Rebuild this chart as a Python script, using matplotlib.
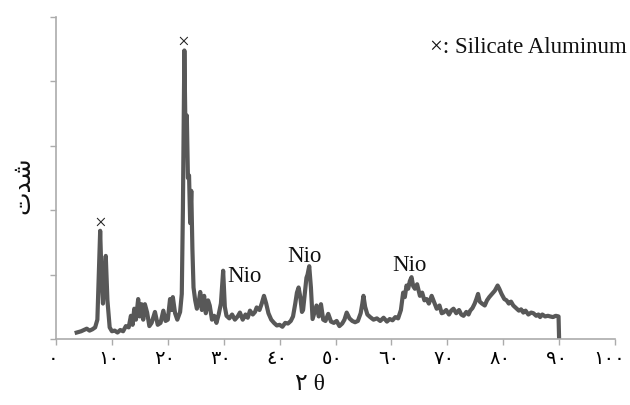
import matplotlib
matplotlib.use('Agg')
import matplotlib.pyplot as plt
import matplotlib.transforms as mtransforms

# XRD pattern (2 theta, intensity in arbitrary units 0-500)
two_theta = [3.7, 4.5, 5.0, 5.5, 6.0, 6.5, 7.0, 7.4, 7.7, 7.9, 8.1, 8.4, 8.6, 8.9, 9.2, 9.6,
             10.0, 10.5, 11.0, 11.5, 12.0, 12.5, 13.0, 13.4, 13.7, 14.0, 14.3, 14.7, 15.0, 15.3, 15.6, 15.9,
             16.3, 16.7, 17.1, 17.7, 18.2, 18.7, 19.2, 19.6, 20.0, 20.4, 20.7, 20.9, 21.3, 21.7, 22.2, 22.5,
             22.7, 22.96, 23.2, 23.4, 23.6, 23.8, 24.0, 24.2, 24.4, 24.6, 24.9, 25.2, 25.5, 25.8, 26.1, 26.5,
             26.8, 27.2, 27.5, 27.9, 28.3, 28.7, 29.1, 29.5, 29.9, 30.2, 30.5,
             31.0, 31.5, 32.0, 32.5, 32.9, 33.4, 33.9, 34.3, 34.7, 35.2, 35.6, 35.9, 36.4, 36.8, 37.2, 37.6,
             38.0, 38.5, 39.0, 39.5, 40.0, 40.5, 41.0, 41.5, 42.0, 42.4, 42.8, 43.1, 43.4, 43.7, 44.0, 44.2,
             44.5, 44.8, 45.0, 45.3, 45.6, 45.9, 46.2, 46.6, 47.0, 47.4, 47.8, 48.2, 48.7, 49.2, 49.7, 50.2,
             50.7, 51.2, 51.6, 52.0, 52.5, 53.0, 53.5, 54.0, 54.5,
             54.8, 55.0, 55.3, 55.7, 56.2, 56.8, 57.4, 58.0, 58.6, 59.2, 59.7, 60.2, 60.7, 61.2, 61.7, 62.1,
             62.4, 62.7, 63.0, 63.3, 63.6, 63.9, 64.2, 64.6, 65.1, 65.5, 65.9, 66.3, 66.7, 67.2, 67.6, 68.1,
             68.6, 69.0, 69.3, 69.8, 70.3, 70.7, 71.1, 71.6, 72.1, 72.5, 72.9, 73.4, 73.8, 74.1, 74.5, 74.9,
             75.2, 75.5, 75.8, 76.2, 76.7, 77.1, 77.5, 78.0, 78.5, 79.0, 79.3, 79.7, 80.2, 80.6, 81.0, 81.4,
             81.8, 82.3, 82.8, 83.2, 83.6, 84.0, 84.5, 85.0, 85.4, 85.9, 86.3, 86.6, 87.0, 87.5, 88.0, 88.4,
             88.9, 89.4, 89.9, 90.0]
intensity = [10, 12, 14, 16, 13, 15, 18, 30, 110, 168, 110, 55, 90, 129, 60, 18,
             12, 13, 10, 14, 12, 20, 18, 36, 22, 47, 30, 62, 35, 54, 30, 54,
             41, 20, 25, 42, 22, 25, 44, 28, 30, 62, 45, 65, 40, 30, 42, 70,
             200, 448, 300, 347, 250, 254, 180, 230, 140, 80, 60, 47, 55, 73, 45, 67,
             40, 60, 52, 30, 36, 25, 38, 55, 106, 50, 36,
             32, 38, 30, 35, 41, 30, 38, 33, 44, 38, 42, 49, 45, 55, 67, 55,
             40, 30, 25, 21, 22, 19, 25, 24, 28, 35, 55, 72, 80, 65, 42, 45,
             70, 95, 100, 113, 80, 31, 40, 52, 35, 54, 30, 28, 39, 27, 25, 28,
             20, 24, 30, 41, 32, 28, 26, 28, 40,
             55, 67, 50, 38, 34, 30, 32, 28, 33, 27, 31, 29, 34, 32, 45, 72,
             65, 83, 78, 90, 96, 82, 78, 85, 67, 72, 60, 62, 55, 67, 58, 47,
             52, 40, 41, 45, 38, 44, 47, 40, 45, 38, 36, 42, 38, 44, 48, 55,
             62, 70, 58, 55, 52, 60, 65, 70, 75, 83, 78, 70, 62, 60, 55, 58,
             52, 48, 44, 46, 41, 44, 38, 41, 40, 36, 38, 34, 38, 35, 36, 35,
             34, 36, 35, 0]

# peak markers
cross_x = [7.9, 22.7]
cross_y = [179, 461]
nio_x = [33.8, 44.5, 63.3]
nio_y = [98, 129, 115]

xticks = [0, 10, 20, 30, 40, 50, 60, 70, 80, 90, 100]
xtick_labels = ['٠', '١٠', '٢٠', '٣٠', '٤٠', '٥٠', '٦٠', '٧٠', '٨٠', '٩٠', '١٠٠']

serif = ['Liberation Serif', 'DejaVu Sans']
line_col = '#585858'
axis_col = '#ababab'

fig = plt.figure(figsize=(6.3, 4.06), dpi=100)
ax = fig.add_axes([0.0889, 0.1626, 0.8873, 0.7931])

ax.plot(two_theta, intensity, color=line_col, lw=3.0, solid_joinstyle='round')

ax.set_xlim(0, 100)
ax.set_ylim(0, 500)
ax.set_xticks(xticks)
ax.set_xticklabels(xtick_labels, family=serif, fontsize=14)
ax.set_yticks([0, 100, 200, 300, 400, 500])
ax.set_yticklabels([])
ax.tick_params(axis='both', colors=axis_col, length=4, width=1, direction='out')
ax.tick_params(axis='x', labelcolor='black', pad=4)
for side in ['top', 'right']:
    ax.spines[side].set_visible(False)
for side in ['left', 'bottom']:
    ax.spines[side].set_color(axis_col)
    ax.spines[side].set_linewidth(1.2)

# labels sit a little left of their ticks in the original; last one ends inside the figure
labs = ax.get_xticklabels()
for lab in labs[:-1]:
    lab.set_transform(lab.get_transform() + mtransforms.ScaledTranslation(-3 / 100, 0, fig.dpi_scale_trans))
labs[-1].set_ha('right')
labs[-1].set_transform(labs[-1].get_transform() + mtransforms.ScaledTranslation(10 / 100, 0, fig.dpi_scale_trans))

for cx, cy in zip(cross_x, cross_y):
    ax.text(cx, cy, '×', ha='center', va='center', fontsize=15, family=serif, color='#222222')
for nx, ny in zip(nio_x, nio_y):
    ax.text(nx, ny, 'Nio', ha='center', va='center', fontsize=16.5, family=serif, color='#111111')

fig.text(0.995, 0.884, '×: Silicate Aluminum', ha='right', va='center', fontsize=16.5,
         family=serif, color='#111111')
# y label "شدت" written with presentation forms in visual order
fig.text(0.035, 0.544, 'ﺕﺪﺷ', rotation=90, ha='center', va='center', fontsize=18,
         family=['DejaVu Sans'], color='#111111')
fig.text(0.492, 0.052, '٢ θ', ha='center', va='center', fontsize=17, family=serif, color='#111111')

fig.savefig('out.png', dpi=100)
